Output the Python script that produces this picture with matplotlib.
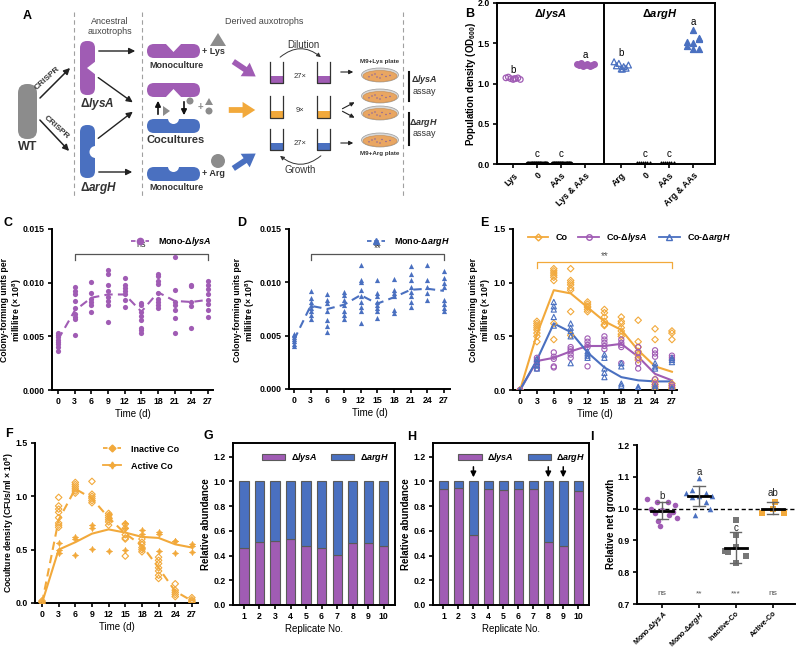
import matplotlib
matplotlib.use('Agg')
import matplotlib.pyplot as plt
from matplotlib.patches import FancyBboxPatch, Polygon, Circle, Ellipse, Rectangle, FancyArrowPatch, Patch
from matplotlib.lines import Line2D
import numpy as np

plt.rcParams['font.family'] = ['Liberation Sans', 'DejaVu Sans']
plt.rcParams['font.weight'] = 'bold'
plt.rcParams['mathtext.fontset'] = 'custom'
plt.rcParams['mathtext.rm'] = 'Liberation Sans:bold'
plt.rcParams['mathtext.it'] = 'Liberation Sans:italic:bold'
plt.rcParams['mathtext.bf'] = 'Liberation Sans:bold'
plt.rcParams['axes.linewidth'] = 1.4

PUR = '#A05CB4'
BLU = '#4A70C0'
ORG = '#F2A93B'
GRY = '#8C8C8C'
TXT = '#222222'

# ---------------- DATA ----------------
days = [0, 3, 6, 9, 12, 15, 18, 21, 24, 27]

# Panel B (OD600)
B_labels = ['Lys', '0', 'AAs', 'Lys & AAs', 'Arg', '0', 'AAs', 'Arg & AAs']
B_lys = [1.07, 1.08, 1.06, 1.05, 1.06, 1.07, 1.05, 1.06]
B_lys0 = [0.005, 0.0, 0.004, 0.006, 0.003, 0.005, 0.002, 0.004, 0.006]
B_lysAA = [0.006, 0.003, 0.005, 0.004, 0.006, 0.002, 0.005, 0.004, 0.003]
B_lysLysAA = [1.24, 1.23, 1.25, 1.22, 1.23, 1.24, 1.22, 1.23, 1.24, 1.23]
B_arg = [1.27, 1.22, 1.25, 1.18, 1.21, 1.19, 1.23, 1.18]
B_arg0 = [0.003, 0.005, 0.002, 0.004, 0.006, 0.003, 0.004]
B_argAA = [0.004, 0.002, 0.005, 0.003, 0.004, 0.006, 0.003]
B_argArgAA = [1.52, 1.43, 1.66, 1.55, 1.47, 1.56, 1.50, 1.43]
B_letters = ['b', 'c', 'c', 'a', 'b', 'c', 'c', 'a']
B_letter_y = [1.17, 0.13, 0.13, 1.36, 1.38, 0.13, 0.13, 1.77]

# Panel C (x 10^-3, Mono-lysA)
C_pts = [[5.3, 5.1, 4.9, 4.7, 4.5, 4.3, 4.0, 3.6],
         [9.6, 9.2, 8.9, 8.3, 7.6, 7.1, 6.8, 6.6, 5.1],
         [10.1, 9.0, 8.5, 8.2, 7.9, 7.3],
         [11.2, 10.8, 9.8, 9.2, 8.7, 8.3, 7.9, 6.3],
         [10.4, 9.8, 9.5, 9.2, 8.9, 8.4, 7.7],
         [8.1, 7.9, 7.3, 6.9, 6.5, 5.8, 5.6, 5.3],
         [10.8, 10.6, 10.2, 9.9, 9.0, 8.5, 8.2, 7.9, 7.6],
         [12.4, 9.3, 8.2, 7.9, 7.5, 6.7, 5.3],
         [9.8, 9.7, 8.2, 7.8, 5.8],
         [10.2, 9.8, 9.4, 8.9, 8.4, 8.0, 7.5, 6.8]]
C_mean = [4.7, 7.4, 8.6, 8.9, 8.9, 7.3, 9.1, 8.3, 8.2, 8.4]

# Panel D (x 10^-3, Mono-argH)
D_pts = [[5.2, 5.1, 4.9, 4.7, 4.5, 4.2, 4.0],
         [9.2, 8.5, 8.2, 7.9, 7.6, 7.3, 6.9, 6.6],
         [8.9, 8.3, 8.1, 7.3, 6.5, 5.9, 5.3],
         [9.1, 8.8, 8.3, 7.9, 7.3, 6.9, 6.6],
         [11.6, 10.2, 10.0, 9.3, 8.7, 8.2, 7.7, 7.3, 6.2],
         [10.2, 9.0, 8.7, 8.2, 7.9, 7.6, 7.3, 6.7],
         [10.3, 9.3, 9.0, 8.7, 7.4, 7.1],
         [11.5, 10.8, 10.2, 9.6, 9.1, 8.7, 8.2, 7.7],
         [11.6, 10.2, 9.6, 9.0, 8.3],
         [11.1, 10.4, 9.9, 9.6, 8.3, 8.0, 7.6, 7.3]]
D_mean = [4.6, 7.8, 7.5, 7.9, 8.8, 8.0, 8.6, 9.3, 9.4, 9.2]

# Panel E (x 10^8)
E_co_pts = [[0.0, 0.0, 0.0],
            [0.45, 0.5, 0.53, 0.56, 0.6, 0.62, 0.64, 0.58],
            [1.13, 1.11, 1.09, 1.07, 1.05, 1.02, 0.62, 0.47],
            [1.13, 1.02, 1.0, 0.98, 0.95, 0.93, 0.73, 0.51],
            [0.82, 0.8, 0.78, 0.77, 0.75, 0.73],
            [0.75, 0.72, 0.68, 0.64, 0.61, 0.6],
            [0.68, 0.64, 0.62, 0.58, 0.55, 0.52, 0.5],
            [0.65, 0.45, 0.4, 0.36, 0.33, 0.3, 0.28],
            [0.57, 0.47, 0.1, 0.07, 0.05, 0.03, 0.01],
            [0.55, 0.53, 0.47, 0.06, 0.04, 0.02, 0.01]]
E_co_mean = [0.0, 0.52, 0.93, 0.90, 0.77, 0.64, 0.56, 0.37, 0.22, 0.17]
E_lys_pts = [[0.0],
             [0.2, 0.23, 0.26, 0.28, 0.3],
             [0.35, 0.31, 0.29, 0.22, 0.21],
             [0.4, 0.38, 0.36, 0.33, 0.3],
             [0.48, 0.45, 0.42, 0.4, 0.22],
             [0.5, 0.47, 0.44, 0.41, 0.38],
             [0.47, 0.44, 0.42, 0.4, 0.25],
             [0.4, 0.35, 0.3, 0.25, 0.2],
             [0.37, 0.34, 0.31, 0.1, 0.05],
             [0.32, 0.3, 0.28, 0.05, 0.03]]
E_lys_mean = [0.0, 0.27, 0.30, 0.36, 0.41, 0.41, 0.43, 0.31, 0.15, 0.09]
E_arg_pts = [[0.0],
             [0.2, 0.23, 0.26, 0.29],
             [0.82, 0.78, 0.75, 0.68, 0.6],
             [0.62, 0.58, 0.55, 0.5, 0.25],
             [0.36, 0.34, 0.32, 0.3],
             [0.33, 0.3, 0.2, 0.16, 0.12],
             [0.25, 0.22, 0.06, 0.04],
             [0.03, 0.02, 0.01],
             [0.25, 0.22, 0.2, 0.04, 0.02],
             [0.3, 0.28, 0.26, 0.02, 0.01]]
E_arg_mean = [0.0, 0.28, 0.62, 0.54, 0.35, 0.21, 0.12, 0.09, 0.08, 0.08]

# Panel F (x 10^8)
F_inact_pts = [[0.0, 0.01, 0.02],
               [0.99, 0.91, 0.88, 0.85, 0.8, 0.75, 0.73, 0.71],
               [1.13, 1.11, 1.09, 1.07, 1.05, 1.03],
               [1.14, 1.02, 1.0, 0.98, 0.96, 0.94],
               [0.84, 0.82, 0.8, 0.78, 0.76, 0.73],
               [0.74, 0.7, 0.64, 0.61, 0.6, 0.44],
               [0.6, 0.57, 0.55, 0.52, 0.5, 0.48],
               [0.43, 0.4, 0.37, 0.33, 0.3, 0.26, 0.23],
               [0.18, 0.12, 0.1, 0.08, 0.06],
               [0.05, 0.03, 0.02, 0.01, 0.0]]
F_inact_mean = [0.0, 0.78, 1.07, 0.98, 0.80, 0.65, 0.54, 0.33, 0.11, 0.02]
F_act_pts = [[0.0],
             [0.56, 0.5, 0.47],
             [0.62, 0.6, 0.45],
             [0.73, 0.7, 0.51],
             [0.83, 0.8, 0.49],
             [0.75, 0.7, 0.5],
             [0.68, 0.65, 0.52],
             [0.67, 0.65, 0.49],
             [0.58, 0.58, 0.47],
             [0.55, 0.53, 0.48]]
F_act_mean = [0.0, 0.50, 0.57, 0.65, 0.69, 0.66, 0.62, 0.61, 0.55, 0.52]

# Panels G, H (relative abundance)
replicates = [1, 2, 3, 4, 5, 6, 7, 8, 9, 10]
G_lysA = [0.46, 0.51, 0.515, 0.535, 0.48, 0.46, 0.405, 0.505, 0.505, 0.48]
H_lysA = [0.94, 0.95, 0.565, 0.94, 0.93, 0.94, 0.94, 0.51, 0.48, 0.92]
H_arrows = [3, 8, 9]

# Panel I (relative net growth)
I_cats = ['Mono-Δ$lysA$', 'Mono-Δ$argH$', 'Inactive-Co', 'Active-Co']
I_lys = [1.03, 1.02, 1.02, 1.01, 1.0, 0.995, 0.99, 0.985, 0.98, 0.97, 0.96, 0.945]
I_lys_off = [-0.4, -0.15, 0.15, 0.35, -0.3, 0.0, 0.3, -0.2, 0.2, 0.4, -0.1, -0.05]
I_arg = [1.095, 1.06, 1.05, 1.05, 1.04, 1.04, 1.035, 1.02, 1.0, 0.98]
I_arg_off = [0.0, -0.2, 0.2, -0.35, 0.35, 0.0, -0.2, 0.2, 0.3, -0.1]
I_inact = [0.963, 0.917, 0.878, 0.868, 0.862, 0.851, 0.828]
I_inact_off = [0.0, 0.0, 0.0, -0.3, -0.22, 0.27, 0.0]
I_act = [1.02, 1.0, 0.985, 0.985]
I_act_off = [0.05, 0.0, -0.3, 0.3]
I_mean = [0.993, 1.04, 0.877, 1.0]
I_lo = [0.967, 1.007, 0.830, 0.982]
I_hi = [1.022, 1.072, 0.925, 1.020]
I_letters = ['b', 'a', 'c', 'ab']
I_letter_y = [1.04, 1.115, 0.94, 1.05]
I_sig = ['ns', '**', '***', 'ns']

# ---------------- FIGURE ----------------
W, H = 799, 651
fig = plt.figure(figsize=(W / 100, H / 100), dpi=100)


def add_ax(l, t, r, b):
    return fig.add_axes([l / W, 1 - b / H, (r - l) / W, (b - t) / H])


def fx(x):
    return x / W


def fy(y):
    return 1 - y / H


def style(ax, box=False):
    for s in ['top', 'right']:
        ax.spines[s].set_visible(box)
    ax.tick_params(width=1.2, length=3, labelsize=6.3, pad=2)


TFS = 7

# ---- Panel A (schematic) ----
axA = fig.add_axes([0, 0, 1, 1], zorder=-1)
axA.set_xlim(0, W)
axA.set_ylim(H, 0)
axA.axis('off')

for xv in [74, 142, 403]:
    axA.plot([xv, xv], [12, 196], ls=(0, (4, 3)), color='#A0A0A0', lw=0.8)

axA.text(110, 21, 'Ancestral', ha='center', va='center', fontsize=6.5, color='#444', weight='normal')
axA.text(110, 32, 'auxotrophs', ha='center', va='center', fontsize=6.5, color='#444', weight='normal')
axA.text(264, 21, 'Derived auxotrophs', ha='center', va='center', fontsize=6.5, color='#444', weight='normal')

# WT
axA.add_patch(FancyBboxPatch((18, 84), 19, 55, boxstyle='round,pad=0,rounding_size=9', fc=GRY, ec='none'))
axA.text(27.5, 147, 'WT', ha='center', va='center', fontsize=9, color='#333')
# CRISPR arrows
axA.annotate('', xy=(72, 66), xytext=(38, 100),
             arrowprops=dict(arrowstyle='-|>', color='#222', lw=1.1, mutation_scale=9))
axA.annotate('', xy=(71, 153), xytext=(38, 118),
             arrowprops=dict(arrowstyle='-|>', color='#222', lw=1.1, mutation_scale=9))
axA.text(47, 78, 'CRISPR', rotation=42, ha='center', va='center', fontsize=6, color='#333')
axA.text(56, 127, 'CRISPR', rotation=-42, ha='center', va='center', fontsize=6, color='#333')

# ancestral cells
axA.add_patch(FancyBboxPatch((80, 41), 15, 54, boxstyle='round,pad=0,rounding_size=7', fc=PUR, ec='none'))
axA.add_patch(Polygon([(96, 61), (87, 68), (96, 75)], fc='white', ec='none'))
axA.add_patch(FancyBboxPatch((80, 125), 15, 53, boxstyle='round,pad=0,rounding_size=7', fc=BLU, ec='none'))
axA.add_patch(Circle((95.5, 152), 6, fc='white', ec='none'))
axA.text(80, 104, 'Δ$lysA$', ha='left', va='center', fontsize=8.5, color='#333')
axA.text(80, 188, 'Δ$argH$', ha='left', va='center', fontsize=8.5, color='#333')

for (x0, y0, x1, y1) in [(96, 51, 138, 51), (96, 76, 135, 104), (96, 140, 135, 110), (96, 172, 135, 172)]:
    axA.annotate('', xy=(x1, y1), xytext=(x0, y0),
                 arrowprops=dict(arrowstyle='-|>', color='#222', lw=1.0, mutation_scale=9))

# derived cells
def hcell(y, col):
    axA.add_patch(FancyBboxPatch((147, y), 53, 14, boxstyle='round,pad=0,rounding_size=7', fc=col, ec='none'))

hcell(44, PUR)
axA.add_patch(Polygon([(165, 43), (173.5, 52), (182, 43)], fc='white', ec='none'))
hcell(83, PUR)
axA.add_patch(Polygon([(165, 98), (173.5, 89), (182, 98)], fc='white', ec='none'))
hcell(119, BLU)
axA.add_patch(Circle((173.5, 118.5), 5.5, fc='white', ec='none'))
hcell(167, BLU)
axA.add_patch(Circle((173.5, 166.5), 5.5, fc='white', ec='none'))

axA.text(176, 66, 'Monoculture', ha='center', va='center', fontsize=6.5, color='#333')
axA.text(176, 140, 'Cocultures', ha='center', va='center', fontsize=8, color='#333')
axA.text(176, 187, 'Monoculture', ha='center', va='center', fontsize=6.5, color='#333')
axA.text(202, 52, '+ Lys', ha='left', va='center', fontsize=6.5, color='#333')
axA.add_patch(Polygon([(210, 46), (218, 33), (226, 46)], fc=GRY, ec='none'))
axA.text(202, 174, '+ Arg', ha='left', va='center', fontsize=6.5, color='#333')
axA.add_patch(Circle((218, 161), 7, fc=GRY, ec='none'))
# cross-feeding
axA.annotate('', xy=(158, 98), xytext=(158, 117),
             arrowprops=dict(arrowstyle='-|>', color='#111', lw=1.2, mutation_scale=8))
axA.annotate('', xy=(184, 118), xytext=(184, 99),
             arrowprops=dict(arrowstyle='-|>', color='#111', lw=1.2, mutation_scale=8))
axA.add_patch(Polygon([(163, 106), (170, 111), (163, 116)], fc=GRY, ec='none'))
axA.add_patch(Circle((190, 101), 3.5, fc=GRY, ec='none'))
axA.text(200, 107, '+', ha='center', va='center', fontsize=7, color=GRY)
axA.add_patch(Polygon([(205, 105), (209, 98), (213, 105)], fc=GRY, ec='none'))
axA.add_patch(Circle((209, 111), 3.5, fc=GRY, ec='none'))

# big colored arrows
for (p0, p1, col) in [((231, 60), (258, 78), PUR), ((226, 110), (258, 110), ORG), ((231, 170), (258, 152), BLU)]:
    axA.add_patch(FancyArrowPatch(p0, p1, arrowstyle='simple,head_length=0.7,head_width=0.9,tail_width=0.32',
                                  mutation_scale=13, color=col, lw=0))

# tubes
rows = [(62, 83, PUR, '27×'), (96, 118, ORG, '9×'), (129, 150, BLU, '27×')]
for (top, bot, col, lab) in rows:
    for x0 in [270, 317]:
        axA.add_patch(Rectangle((x0, bot - 7), 13, 7, fc=col, ec='none'))
        axA.plot([x0, x0, x0 + 13, x0 + 13], [top, bot, bot, top], color='#333', lw=0.9)
    axA.text(300, (top + bot) / 2 + 4, lab, ha='center', va='center', fontsize=5.5, color='#333', weight='normal')
axA.text(303, 45, 'Dilution', ha='center', va='center', fontsize=7, color='#333', weight='normal')
axA.annotate('', xy=(323, 59), xytext=(278, 59),
             arrowprops=dict(arrowstyle='-|>', color='#333', lw=0.7, mutation_scale=6,
                             connectionstyle='arc3,rad=-0.45'))
axA.text(300, 170, 'Growth', ha='center', va='center', fontsize=7, color='#333', weight='normal')
axA.annotate('', xy=(278, 154), xytext=(323, 154),
             arrowprops=dict(arrowstyle='-|>', color='#333', lw=0.7, mutation_scale=6,
                             connectionstyle='arc3,rad=-0.45'))

for (x0, y0, x1, y1) in [(338, 72, 356, 72), (338, 143, 356, 143), (340, 110, 357, 101), (340, 110, 357, 119)]:
    axA.annotate('', xy=(x1, y1), xytext=(x0, y0),
                 arrowprops=dict(arrowstyle='-|>', color='#222', lw=0.8, mutation_scale=6))

# plates
dots = [(-8, -1), (-3, 1), (2, -1.5), (6, 0.5), (10, -0.5), (-11, 0.8), (0, 2), (-5, -2)]
for cy in [75, 96, 113, 140]:
    axA.add_patch(Ellipse((380, cy), 37, 14, fc='#D8D8D8', ec='#9A9A9A', lw=0.5))
    axA.add_patch(Ellipse((380, cy + 1), 34, 11, fc='#E9A662', ec='#C48A4E', lw=0.4))
    for dx, dy in dots:
        axA.add_patch(Circle((380 + dx, cy + 1 + dy), 0.7, fc='#7A5AA8', ec='none'))
axA.text(380, 62, 'M9+Lys plate', ha='center', va='center', fontsize=4.5, color='#333')
axA.text(380, 154, 'M9+Arg plate', ha='center', va='center', fontsize=4.5, color='#333')
axA.plot([409, 409], [72, 101], color='#111', lw=1.5)
axA.plot([409, 409], [113, 145], color='#111', lw=1.5)
axA.text(424, 80, 'Δ$lysA$', ha='center', va='center', fontsize=6.5, color='#333')
axA.text(424, 91, 'assay', ha='center', va='center', fontsize=6.5, color='#333', weight='normal')
axA.text(424, 123, 'Δ$argH$', ha='center', va='center', fontsize=6.5, color='#333')
axA.text(424, 134, 'assay', ha='center', va='center', fontsize=6.5, color='#333', weight='normal')

# ---- panel letters ----
for lab, x, y in [('A', 23, 16), ('B', 465, 14), ('C', 3, 223), ('D', 237, 223), ('E', 480, 223),
                  ('F', 5, 434), ('G', 203, 436), ('H', 407, 437), ('I', 590, 437)]:
    fig.text(fx(x), fy(y), lab, fontsize=9, weight='bold', ha='left', va='center')

# ---- Panel B ----
axB = add_ax(497, 3, 715, 164)
style(axB, box=True)
B_pos = [0, 1, 2, 3, 4.5, 5.5, 6.5, 7.5]
offs_line = [-0.36, -0.27, -0.18, -0.09, 0.0, 0.09, 0.18, 0.27, 0.36, 0.12]
offs_c = [-0.3, -0.2, -0.1, 0.0, 0.1, 0.2, 0.3, 0.05]
offs_tri = [-0.25, 0.0, 0.0, 0.25, -0.25, 0.25, 0.0, 0.25]

def bscatter(pos, vals, offs, **kw):
    xs = [pos + offs[i % len(offs)] for i in range(len(vals))]
    axB.scatter(xs, vals, **kw)

bscatter(B_pos[0], B_lys, offs_c, marker='o', s=16, facecolors='none', edgecolors=PUR, linewidths=0.9)
bscatter(B_pos[1], B_lys0, offs_line, marker='o', s=12, color='black')
bscatter(B_pos[2], B_lysAA, offs_line, marker='o', s=12, color='black')
bscatter(B_pos[3], B_lysLysAA, offs_line, marker='o', s=16, color=PUR)
bscatter(B_pos[4], B_arg, offs_c, marker='^', s=18, facecolors='none', edgecolors=BLU, linewidths=0.9)
bscatter(B_pos[5], B_arg0, offs_line, marker='^', s=12, color='black')
bscatter(B_pos[6], B_argAA, offs_line, marker='^', s=12, color='black')
bscatter(B_pos[7], B_argArgAA, offs_tri, marker='^', s=18, color=BLU)
for p, l, y in zip(B_pos, B_letters, B_letter_y):
    axB.text(p, y, l, ha='center', va='center', fontsize=7, weight='normal')
axB.axvline(3.8, color='black', lw=1.4)
axB.set_xlim(-0.67, 8.4)
axB.set_ylim(0, 2.0)
axB.set_yticks([0, 0.5, 1.0, 1.5, 2.0])
axB.set_yticklabels(['0.0', '0.5', '1.0', '1.5', '2.0'])
axB.set_xticks(B_pos)
axB.set_xticklabels(B_labels, rotation=45, ha='right', rotation_mode='anchor', fontsize=6.3)
axB.text(1.55, 1.86, 'Δ$lysA$', ha='center', va='center', fontsize=8)
axB.text(6.1, 1.86, 'Δ$argH$', ha='center', va='center', fontsize=8)
fig.text(fx(471), fy(84), 'Population density (OD$_{600}$)', rotation=90, ha='center', va='center', fontsize=TFS)

# ---- Panels C, D ----
def timecourse(ax, pts, mean, col, marker, label, legx, ylab_x):
    style(ax)
    for d, vals in zip(days, pts):
        ax.scatter([d] * len(vals), [v * 1e-3 for v in vals], marker=marker, s=14, color=col, zorder=3, linewidths=0)
    ax.plot(days, [m * 1e-3 for m in mean], ls=(0, (4, 2.5)), color=col, lw=1.5, zorder=2)
    ax.set_ylim(0, 0.015)
    ax.set_yticks([0, 0.005, 0.010, 0.015])
    ax.set_yticklabels(['0.000', '0.005', '0.010', '0.015'])
    ax.set_xticks(days)
    ax.set_xlabel('Time (d)', fontsize=TFS, labelpad=2)
    h = Line2D([], [], ls=(0, (2.5, 1.5)), color=col, marker=marker, ms=4.5, lw=1.3)
    ax.legend([h], [label], loc='center left', bbox_to_anchor=(fx(legx), fy(242)), bbox_transform=fig.transFigure,
              frameon=False, fontsize=6.5, handlelength=2.0, handletextpad=1.0, borderpad=0)
    fig.text(fx(ylab_x), fy(310), 'Colony-forming units per\nmillilitre (× 10$^{8}$)', rotation=90,
             ha='center', va='center', fontsize=6.2, linespacing=1.1)

axC = add_ax(52, 229, 213, 390)
timecourse(axC, C_pts, C_mean, PUR, 'o', 'Mono-Δ$lysA$', 126, 12)
axC.set_xlim(-1.1, 27.9)
axC.plot([3, 3, 27, 27], [0.0121, 0.0127, 0.0127, 0.0121], color='#555', lw=0.9)
axC.text(15, 0.0131, 'ns', ha='center', va='bottom', fontsize=6.5, weight='normal', color='#333')

axD = add_ax(289, 229, 450, 389)
timecourse(axD, D_pts, D_mean, BLU, '^', 'Mono-Δ$argH$', 362, 245)
axD.set_xlim(-0.9, 28.1)
axD.plot([3, 3, 27, 27], [0.0121, 0.0127, 0.0127, 0.0121], color='#555', lw=0.9)
axD.text(15, 0.0127, '**', ha='center', va='bottom', fontsize=7, weight='normal', color='#333')

# ---- Panel E ----
axE = add_ax(513, 229, 677, 390)
style(axE)
for pts, mean, col, mk in [(E_co_pts, E_co_mean, ORG, 'D'), (E_lys_pts, E_lys_mean, PUR, 'o'),
                           (E_arg_pts, E_arg_mean, BLU, '^')]:
    for d, vals in zip(days, pts):
        axE.scatter([d] * len(vals), vals, marker=mk, s=14 if mk != 'D' else 11, facecolors='none',
                    edgecolors=col, linewidths=0.8, zorder=3)
    axE.plot(days, mean, color=col, lw=1.5, zorder=2)
axE.set_xlim(-1.25, 27.9)
axE.set_ylim(0, 1.5)
axE.set_yticks([0, 0.5, 1.0, 1.5])
axE.set_yticklabels(['0.0', '0.5', '1.0', '1.5'])
axE.set_xticks(days)
axE.set_xlabel('Time (d)', fontsize=TFS, labelpad=2)
axE.plot([3, 3, 27, 27], [1.14, 1.19, 1.19, 1.14], color=ORG, lw=0.9)
axE.text(15, 1.2, '**', ha='center', va='bottom', fontsize=7, weight='normal', color='#555')
hE = [Line2D([], [], color=ORG, marker='D', ms=3.5, mfc='none', lw=1.3),
      Line2D([], [], color=PUR, marker='o', ms=4, mfc='none', lw=1.3),
      Line2D([], [], color=BLU, marker='^', ms=4, mfc='none', lw=1.3)]
axE.legend(hE, ['Co', 'Co-Δ$lysA$', 'Co-Δ$argH$'], loc='center left', bbox_to_anchor=(fx(523), fy(238)),
           bbox_transform=fig.transFigure, ncol=3, frameon=False, fontsize=6.5, handlelength=2.3,
           columnspacing=1.2, handletextpad=0.8, borderpad=0)
fig.text(fx(481), fy(310), 'Colony-forming units per\nmillilitre (× 10$^{8}$)', rotation=90,
         ha='center', va='center', fontsize=6.2, linespacing=1.1)

# ---- Panel F ----
axF = add_ax(35, 443, 198, 603)
style(axF)
for d, vals in zip(days, F_inact_pts):
    axF.scatter([d] * len(vals), vals, marker='D', s=11, facecolors='none', edgecolors=ORG, linewidths=0.8, zorder=3)
for d, vals in zip(days, F_act_pts):
    axF.scatter([d] * len(vals), vals, marker=(4, 1, 0), s=22, color=ORG, linewidths=0.3, zorder=3)
axF.plot(days, F_inact_mean, ls=(0, (4, 2.5)), color=ORG, lw=1.5, zorder=2)
axF.plot(days, F_act_mean, color=ORG, lw=1.5, zorder=2)
axF.set_xlim(-1.26, 28.1)
axF.set_ylim(0, 1.5)
axF.set_yticks([0, 0.5, 1.0, 1.5])
axF.set_yticklabels(['0.0', '0.5', '1.0', '1.5'])
axF.set_xticks(days)
axF.set_xlabel('Time (d)', fontsize=TFS, labelpad=2)
hF = [Line2D([], [], ls=(0, (2.5, 1.5)), color=ORG, marker='D', ms=3.5, lw=1.3),
      Line2D([], [], color=ORG, marker=(4, 1, 0), ms=5, lw=1.3)]
axF.legend(hF, ['Inactive Co', 'Active Co'], loc='upper left', bbox_to_anchor=(fx(98), fy(440)),
           bbox_transform=fig.transFigure, frameon=False, fontsize=6.5, handlelength=2.0,
           handletextpad=1.2, borderpad=0, labelspacing=0.9)
fig.text(fx(9), fy(523), 'Coculture density (CFUs/ml × 10$^{8}$)', rotation=90, ha='center', va='center', fontsize=6.2)

# ---- Panels G, H ----
def barpanel(ax, lys, ylab_x):
    style(ax, box=True)
    arg = [1 - v for v in lys]
    ax.bar(replicates, lys, width=0.6, color=PUR, edgecolor='#5A5A5A', lw=0.8)
    ax.bar(replicates, arg, bottom=lys, width=0.6, color=BLU, edgecolor='#5A5A5A', lw=0.8)
    ax.set_xlim(0.3, 10.72)
    ax.set_ylim(0, 1.31)
    ax.set_yticks([0, 0.2, 0.4, 0.6, 0.8, 1.0, 1.2])
    ax.set_yticklabels(['0.0', '0.2', '0.4', '0.6', '0.8', '1.0', '1.2'])
    ax.set_xticks(replicates)
    ax.set_xlabel('Replicate No.', fontsize=TFS, labelpad=2)
    hs = [Patch(fc=PUR, ec='#5A5A5A', lw=0.8), Patch(fc=BLU, ec='#5A5A5A', lw=0.8)]
    ax.legend(hs, ['Δ$lysA$', 'Δ$argH$'], loc='upper center', bbox_to_anchor=(0.57, 1.0), ncol=2,
              frameon=False, fontsize=6.5, handlelength=2.6, handleheight=0.8, columnspacing=1.5,
              handletextpad=0.6, borderpad=0.4)
    fig.text(fx(ylab_x), fy(524), 'Relative abundance', rotation=90, ha='center', va='center', fontsize=TFS)

axG = add_ax(233, 443, 395, 605)
barpanel(axG, G_lysA, 206)
axH = add_ax(433, 443, 589, 605)
barpanel(axH, H_lysA, 406)
for r in H_arrows:
    axH.annotate('', xy=(r, 1.01), xytext=(r, 1.14),
                 arrowprops=dict(arrowstyle='-|>', color='black', lw=1.1, mutation_scale=8))

# ---- Panel I ----
axI = add_ax(637, 445, 795, 604)
style(axI)
axI.axhline(1.0, color='black', ls=(0, (3, 2)), lw=1.0, zorder=1)
groups = [(I_lys, I_lys_off, PUR, 'o'), (I_arg, I_arg_off, BLU, '^'),
          (I_inact, I_inact_off, '#777777', 's'), (I_act, I_act_off, ORG, 's')]
for i, (vals, offs, col, mk) in enumerate(groups):
    axI.scatter([i + o for o in offs], vals, marker=mk, s=16, color=col, zorder=3, linewidths=0)
    axI.plot([i - 0.3, i + 0.3], [I_mean[i], I_mean[i]], color='black', lw=2, zorder=4)
    axI.plot([i, i], [I_lo[i], I_hi[i]], color='#666', lw=1.0, zorder=4)
    for yy in [I_lo[i], I_hi[i]]:
        axI.plot([i - 0.15, i + 0.15], [yy, yy], color='#666', lw=1.0, zorder=4)
    axI.text(i, I_letter_y[i], I_letters[i], ha='center', va='center', fontsize=7, weight='normal', color='#222')
    axI.text(i, 0.733, I_sig[i], ha='center', va='center', fontsize=6, weight='normal', color='#555')
axI.set_xlim(-0.68, 3.6)
axI.set_ylim(0.7, 1.2)
axI.set_yticks([0.7, 0.8, 0.9, 1.0, 1.1, 1.2])
axI.set_yticklabels(['0.7', '0.8', '0.9', '1.0', '1.1', '1.2'])
axI.set_xticks([0, 1, 2, 3])
axI.tick_params(axis='x', pad=1)
axI.set_xticklabels(I_cats, rotation=45, ha='right', rotation_mode='anchor', fontsize=5.2)
fig.text(fx(611), fy(524), 'Relative net growth', rotation=90, ha='center', va='center', fontsize=TFS)

fig.savefig('out.png', dpi=100)
